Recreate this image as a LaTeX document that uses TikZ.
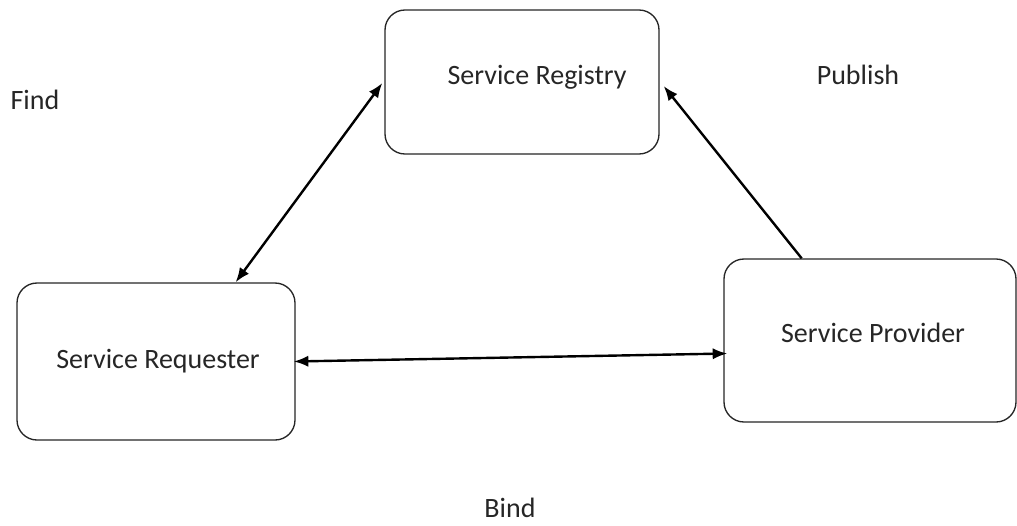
\documentclass[tikz,border=0pt]{standalone}
\usepackage{fontspec}
\setmainfont{Carlito}
\usetikzlibrary{arrows.meta,calc}
\begin{document}
\begin{tikzpicture}[x=0.75pt,y=-0.75pt,
  box/.style={draw=black!85,line width=1pt,rounded corners=15pt,fill=white},
  lbl/.style={text=black!85,font=\fontsize{21}{25}\selectfont,inner sep=0pt},
  conn/.style={line width=1.8pt,black,{Latex[length=11pt,width=8.5pt]}-{Latex[length=11pt,width=8.5pt]}},
  oneway/.style={line width=1.8pt,black,-{Latex[length=11pt,width=8.5pt]}}]
\useasboundingbox (0,0) rectangle (1017,525);
\node[box,minimum width=274*0.75pt,minimum height=144*0.75pt,
  label={[lbl,shift={(15,-5)}]center:Service Registry}] (reg) at (522,82) {};
\node[box,minimum width=278*0.75pt,minimum height=157*0.75pt,
  label={[lbl,shift={(2,0)}]center:Service Requester}] (req) at (156,361.5) {};
\node[box,minimum width=292*0.75pt,minimum height=163*0.75pt,
  label={[lbl,shift={(3,-8)}]center:Service Provider}] (prov) at (870,340.5) {};
\node[lbl] (find) at (35,100) {Find};
\node[lbl] (publish) at (858,75) {Publish};
\node[lbl] (bind) at (510,508) {Bind};
\draw[conn] ($(req.north west)!0.785!(req.north east)$) -- ($(reg.west)+(-2,1)$);
\draw[oneway] ($(prov.north west)!0.267!(prov.north east)$) -- ($(reg.east)+(4,4)$);
\draw[conn] ($(req.east)+(-2,0)$) -- ($(prov.west)+(4,13)$);
\end{tikzpicture}
\end{document}
